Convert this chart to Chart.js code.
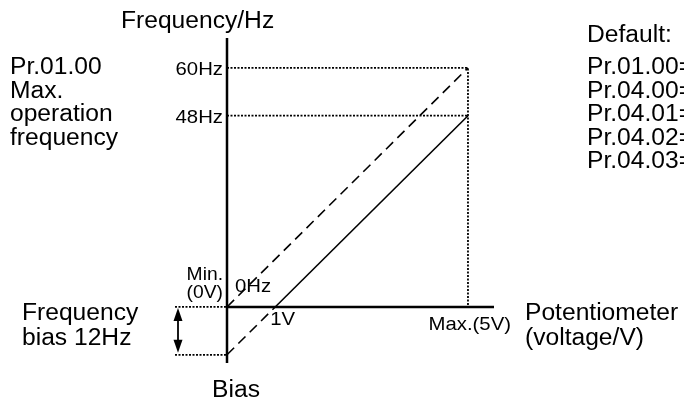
<!DOCTYPE html>
<html lang="en">
<head>
  <meta charset="UTF-8">
  <title>Potentiometer Frequency Bias</title>
  <script src="https://cdn.jsdelivr.net/npm/chart.js"></script>
  <style>
    body { margin: 0; background: #fff; }
    #wrap { width: 684px; height: 403px; }
  </style>
</head>
<body>
  <div id="wrap">
    <canvas id="myChart" width="684" height="403"></canvas>
  </div>

  <script>
    // Voltage (V) / frequency (Hz) pairs for each line
    var outputVolt = [1, 5];
    var outputFreq = [0, 48];
    var biasVolt = [0, 1];
    var biasFreq = [-12, 0];
    var maxVolt = [0, 5];
    var maxFreq = [0, 60];

    // Dotted guides for the frequency ticks and the 5V limit
    var guide60Volt = [0, 5, 5];
    var guide60Freq = [60, 60, 0];
    var guide48Volt = [0, 5];
    var guide48Freq = [48, 48];

    // Axis ranges
    var xRange = [0, 5.54];
    var yRange = [-14.06, 67.5];

    var freqTicks = ['60Hz', '48Hz'];
    var freqTickValues = [60, 48];

    var leftNotes = ['Pr.01.00', 'Max.', 'operation', 'frequency'];
    var defaultNotes = ['Pr.01.00=', 'Pr.04.00=', 'Pr.04.01=', 'Pr.04.02=', 'Pr.04.03='];

    function pts(xs, ys) {
      return xs.map(function (x, i) { return { x: x, y: ys[i] }; });
    }

    var FONT = '"Liberation Sans", Arial, sans-serif';
    var DOTS = [2, 1.5];
    var BIG = 23;
    var SMALL = 19;
    var STRETCH = 1.07; // the lettering is a bit wider than plain Arial

    // Function to draw labels, bias arrow and bias guides
    var labelPlugin = {
      id: 'labels',
      afterDraw: function (chart) {
        var ctx = chart.ctx;
        var xs = chart.scales.x;
        var ys = chart.scales.y;
        var x0 = xs.getPixelForValue(0);
        var y0 = ys.getPixelForValue(0);
        var yBias = ys.getPixelForValue(biasFreq[0]);

        ctx.save();
        ctx.fillStyle = '#000';
        ctx.strokeStyle = '#000';

        // bias guides
        ctx.lineWidth = 1.8;
        ctx.setLineDash(DOTS);
        [y0, yBias].forEach(function (y) {
          ctx.beginPath();
          ctx.moveTo(175, y);
          ctx.lineTo(x0, y);
          ctx.stroke();
        });
        ctx.setLineDash([]);

        // double-headed arrow
        var ax = 178;
        ctx.lineWidth = 1.8;
        ctx.beginPath();
        ctx.moveTo(ax, y0 + 8);
        ctx.lineTo(ax, yBias - 8);
        ctx.stroke();
        ctx.beginPath();
        ctx.moveTo(ax, y0 + 1);
        ctx.lineTo(ax - 4.5, y0 + 14);
        ctx.lineTo(ax + 4.5, y0 + 14);
        ctx.closePath();
        ctx.fill();
        ctx.beginPath();
        ctx.moveTo(ax, yBias - 2);
        ctx.lineTo(ax - 4.5, yBias - 15);
        ctx.lineTo(ax + 4.5, yBias - 15);
        ctx.closePath();
        ctx.fill();

        function text(str, x, y, size, align) {
          ctx.save();
          ctx.translate(x, y);
          ctx.scale(STRETCH, 1);
          ctx.font = size + 'px ' + FONT;
          ctx.textAlign = align || 'left';
          ctx.textBaseline = 'alphabetic';
          ctx.fillText(str, 0, 0);
          ctx.restore();
        }

        // axis titles
        text('Frequency/Hz', 121, 28, BIG);
        text('Potentiometer', 525, 320, BIG);
        text('(voltage/V)', 525, 345, BIG);
        text('Bias', 236, 397, BIG, 'center');

        // left notes
        leftNotes.forEach(function (s, i) {
          text(s, 10, 74 + i * 23.5, BIG);
        });
        text('Frequency', 22, 320, BIG);
        text('bias 12Hz', 22, 345, BIG);

        // defaults block
        text('Default:', 587, 42, BIG);
        defaultNotes.forEach(function (s, i) {
          text(s, 587, 74 + i * 23.5, BIG);
        });

        // tick labels
        freqTickValues.forEach(function (v, i) {
          text(freqTicks[i], x0 - 4, ys.getPixelForValue(v) + 7, SMALL, 'right');
        });
        text('Min.', x0 - 4, 280, 18, 'right');
        text('(0V)', x0 - 4, 298, 18, 'right');
        text('0Hz', x0 + 8, y0 - 15, SMALL);
        text('1V', xs.getPixelForValue(outputVolt[0]) - 5, y0 + 18, SMALL);
        text('Max.(5V)', xs.getPixelForValue(maxVolt[1]) + 43, y0 + 23, SMALL, 'right');

        ctx.restore();
      }
    };

    function lineSet(data, width, dash) {
      return {
        data: data,
        borderColor: '#000',
        borderWidth: width,
        borderDash: dash || [],
        pointRadius: 0,
        showLine: true,
        fill: false,
        tension: 0,
        clip: false
      };
    }

    var ctx = document.getElementById('myChart').getContext('2d');
    var myChart = new Chart(ctx, {
      type: 'scatter',
      data: {
        datasets: [
          lineSet(pts([0, 0], yRange), 2.5),
          lineSet(pts(xRange, [0, 0]), 2.5),
          lineSet(pts(guide60Volt, guide60Freq), 1.8, DOTS),
          lineSet(pts(guide48Volt, guide48Freq), 1.8, DOTS),
          lineSet(pts(maxVolt, maxFreq), 1.6, [10, 6]),
          lineSet(pts(biasVolt, biasFreq), 1.6, [10, 6]),
          lineSet(pts(outputVolt, outputFreq), 1.6)
        ]
      },
      options: {
        responsive: false,
        animation: false,
        layout: { padding: { left: 227, right: 190, top: 38, bottom: 40 } },
        plugins: { legend: { display: false }, tooltip: { enabled: false } },
        scales: {
          x: { type: 'linear', min: xRange[0], max: xRange[1], display: false },
          y: { type: 'linear', min: yRange[0], max: yRange[1], display: false }
        }
      },
      plugins: [labelPlugin]
    });
  </script>
</body>
</html>
